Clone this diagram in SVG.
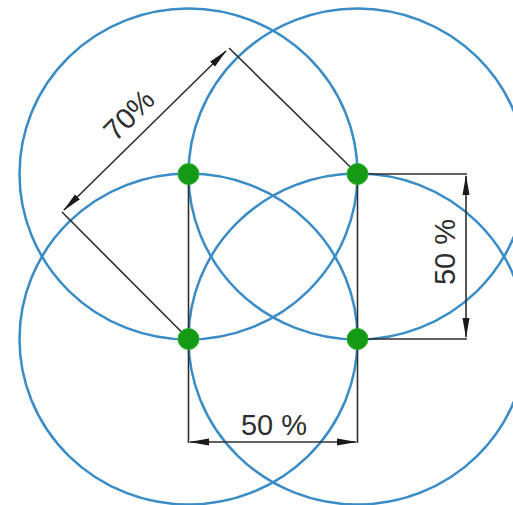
<svg xmlns="http://www.w3.org/2000/svg" width="513" height="505" viewBox="0 0 513 505">
  <style>
    .ring { fill: none; stroke: #3a8cc6; stroke-width: 2.5; }
    .dot { fill: #159a15; stroke: #2fae2f; stroke-width: 1; }
    .dim { fill: none; stroke: #2e2e2e; stroke-width: 1.6; }
    .lbl { font-family: "Liberation Sans", Arial, sans-serif; font-size: 29px; fill: #2e2e2e; text-anchor: middle; }
  </style>
  <defs>
    <marker id="arr" viewBox="0 0 20 8" refX="19" refY="4" markerWidth="20" markerHeight="8" markerUnits="userSpaceOnUse" orient="auto-start-reverse">
      <path d="M0,0.5 L20,4 L0,7.5 Z" fill="#1a1a1a"/>
    </marker>
  </defs>
  <rect width="513" height="505" fill="#ffffff"/>

  <g id="circle-top-left"><ellipse class="ring" cx="188.5" cy="174" rx="169" ry="165.5"/></g>
  <g id="circle-top-right"><ellipse class="ring" cx="357.5" cy="174" rx="169" ry="165.5"/></g>
  <g id="circle-bottom-left"><ellipse class="ring" cx="188.5" cy="339" rx="169" ry="165.5"/></g>
  <g id="circle-bottom-right"><ellipse class="ring" cx="357.5" cy="339" rx="169" ry="165.5"/></g>

  <g id="connectors">
    <!-- extension lines -->
    <polyline class="dim" points="357.5,174 229,48"/>
    <polyline class="dim" points="188.5,339 62,212"/>
    <polyline class="dim" points="188.5,174 188.5,443"/>
    <polyline class="dim" points="357.5,174 357.5,443"/>
    <polyline class="dim" points="357.5,174 467,174"/>
    <polyline class="dim" points="357.5,339 467,339"/>
    <!-- dimension lines -->
    <line class="dim" x1="64" y1="210" x2="226" y2="51" marker-start="url(#arr)" marker-end="url(#arr)"/>
    <line class="dim" x1="466" y1="176" x2="466" y2="337" marker-start="url(#arr)" marker-end="url(#arr)"/>
    <line class="dim" x1="190" y1="442" x2="356" y2="442" marker-start="url(#arr)" marker-end="url(#arr)"/>
  </g>

  <g id="dot-top-left"><circle class="dot" cx="188.5" cy="174" r="10.5"/></g>
  <g id="dot-top-right"><circle class="dot" cx="357.5" cy="174" r="10.5"/></g>
  <g id="dot-bottom-left"><circle class="dot" cx="188.5" cy="339" r="10.5"/></g>
  <g id="dot-bottom-right"><circle class="dot" cx="357.5" cy="339" r="10.5"/></g>

  <g id="labels">
    <text class="lbl" transform="translate(129,115) rotate(-45)" x="0" y="10">70%</text>
    <text class="lbl" transform="translate(445,252) rotate(-90)" x="0" y="10">50 %</text>
    <text class="lbl" x="274" y="435">50 %</text>
  </g>
</svg>
